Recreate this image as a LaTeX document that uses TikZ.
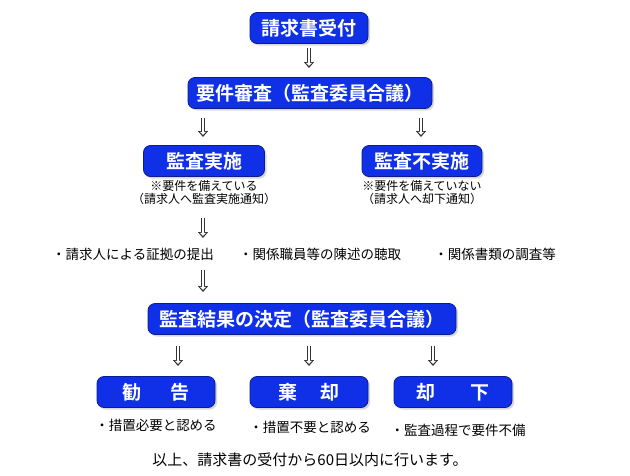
\documentclass[tikz,border=0pt]{standalone}
\usepackage{fontspec}
\setmainfont{Noto Sans CJK JP}
\newfontfamily\boxfont{Noto Sans CJK JP Bold}
\usetikzlibrary{shadows,arrows.meta}
\definecolor{bx}{HTML}{1030E8}
\definecolor{bxe}{HTML}{0A1C90}
\tikzset{
 bluebox/.style={draw=bxe,line width=0.8pt,fill=bx,rounded corners=7pt,text=white,font=\boxfont\fontsize{19}{19}\selectfont,minimum height=31pt,inner sep=0pt,drop shadow={shadow xshift=2pt,shadow yshift=-2pt,fill=gray!60}},
 note/.style={font=\fontsize{13.5}{14}\selectfont,inner sep=0pt},
 small/.style={font=\fontsize{12}{13}\selectfont,inner sep=0pt},
 hol/.style={line width=4pt,draw=black!80,-{Triangle[length=6pt,width=10pt]}},
 holin/.style={line width=2pt,draw=white,shorten >=2pt,-{Triangle[length=3.2pt,width=6pt]}},
}
\begin{document}
\begin{tikzpicture}[x=1pt,y=-1pt]
\useasboundingbox (0,0) rectangle (630,475);
\node[bluebox,minimum width=118pt] (a) at (309,28) {請求書受付};
\node[bluebox,minimum width=244pt] (b) at (310,93) {要件審査（監査委員合議）};
\node[bluebox,minimum width=121pt] (c) at (204,161) {監査実施};
\node[bluebox,minimum width=120pt] (d) at (422,161) {監査不実施};
\node[bluebox,minimum width=308pt] (e) at (302,319) {監査結果の決定（監査委員合議）};
\node[bluebox,minimum width=118pt] (f) at (156,392) {勧\hspace{1.5em}告};
\node[bluebox,minimum width=118pt] (g) at (309,392) {棄\hspace{1.2em}却};
\node[bluebox,minimum width=118pt] (h) at (453,392) {却\hspace{1.8em}下};
\node[small,align=center] (c1) at (204,193) {※要件を備えている\\（請求人へ監査実施通知）};
\node[small,align=center] (d1) at (422,193) {※要件を備えていない\\（請求人へ却下通知）};
\node[note] (r1) at (133,254) {・請求人による証拠の提出};
\node[note] (r2) at (320,254) {・関係職員等の陳述の聴取};
\node[note] (r3) at (495,254) {・関係書類の調査等};
\node[note] (f1) at (156,425) {・措置必要と認める};
\node[note] (g1) at (310,427) {・措置不要と認める};
\node[note] (h1) at (458,430) {・監査過程で要件不備};
\node[note,font=\fontsize{15}{15}\selectfont] (z) at (310,460) {以上、請求書の受付から60日以内に行います。};
\coordinate (p1) at (309,48); \coordinate (q1) at (309,68);
\coordinate (p2) at (203,118); \coordinate (q2) at (203,137);
\coordinate (p3) at (421,118); \coordinate (q3) at (421,137);
\coordinate (p4) at (203,218); \coordinate (q4) at (203,238);
\coordinate (p5) at (203,270); \coordinate (q5) at (203,292);
\coordinate (p6) at (178,346); \coordinate (q6) at (178,366);
\coordinate (p7) at (309,346); \coordinate (q7) at (309,366);
\coordinate (p8) at (433,346); \coordinate (q8) at (433,366);
\foreach \i in {1,...,8}{
 \draw[hol] (p\i) -- (q\i);
 \draw[holin] ([yshift=1pt]p\i) -- (q\i);
}
\end{tikzpicture}
\end{document}
